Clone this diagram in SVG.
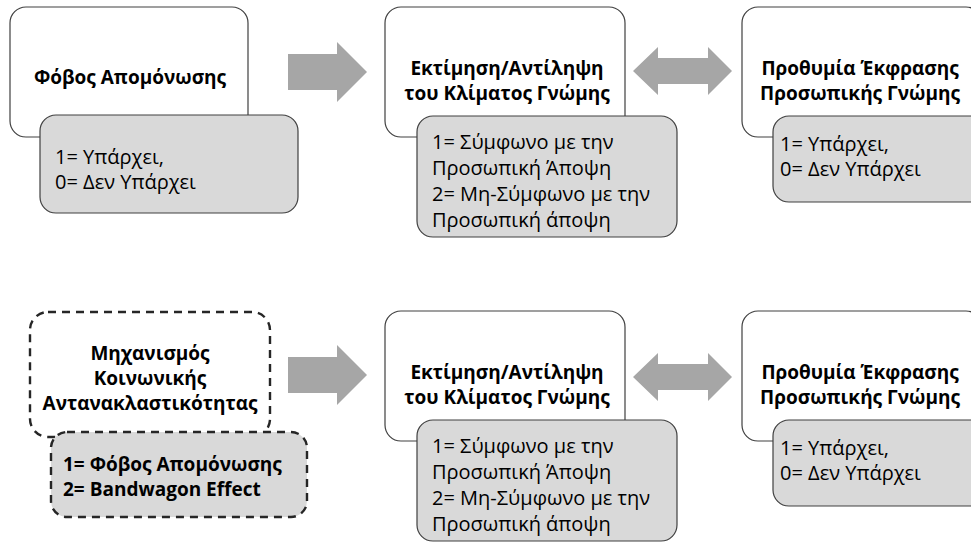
<svg xmlns="http://www.w3.org/2000/svg" width="971" height="548" viewBox="0 0 971 548">
<style>
.box{fill:#fff;stroke:#404040;stroke-width:1.2}
.sub{fill:#d9d9d9;stroke:#404040;stroke-width:1.2}
.dash{stroke:#262626;stroke-width:2.4;stroke-dasharray:8 6}
.arr{fill:#a6a6a6}
.t{font-family:"Open Sans","Noto Sans","DejaVu Sans",sans-serif;font-size:20px;fill:#000}
.b{font-weight:bold;font-size:19px}
.c{text-anchor:middle}
</style>
<rect width="971" height="548" fill="#fff"/>
<g id="connectors">
<polygon class="arr" points="288,54 337,54 337,42 367,72 337,102 337,90 288,90"/>
<polygon class="arr" points="633,71 658,47 658,58 708,58 708,47 732,71 708,95 708,84 658,84 658,95"/>
<polygon class="arr" points="288,357 337,357 337,345 367,375 337,405 337,393 288,393"/>
<polygon class="arr" points="633,377 658,353 658,364 708,364 708,353 732,377 708,401 708,390 658,390 658,401"/>
</g>
<g id="n1">
<rect class="box" x="10" y="7" width="238" height="130" rx="16"/>
<rect class="sub" x="40" y="115" width="258" height="98" rx="16"/>
<text class="t b c" x="130" y="84">Φόβος Απομόνωσης</text>
<text class="t" x="55" y="164">1= Υπάρχει,</text>
<text class="t" x="55" y="189">0= Δεν Υπάρχει</text>
</g>
<g id="n2">
<rect class="box" x="385" y="7" width="240" height="130" rx="16"/>
<rect class="sub" x="417" y="116" width="260" height="121" rx="16"/>
<text class="t b c" x="507" y="75">Εκτίμηση/Αντίληψη</text>
<text class="t b c" x="507" y="100">του Κλίματος Γνώμης</text>
<text class="t" x="432" y="149">1= Σύμφωνο με την</text>
<text class="t" x="432" y="175">Προσωπική Άποψη</text>
<text class="t" x="432" y="201">2= Μη-Σύμφωνο με την</text>
<text class="t" x="432" y="227">Προσωπική άποψη</text>
</g>
<g id="n3">
<rect class="box" x="742" y="7" width="240" height="130" rx="16"/>
<rect class="sub" x="773" y="116" width="260" height="86" rx="16"/>
<text class="t b c" x="860" y="75">Προθυμία Έκφρασης</text>
<text class="t b c" x="860" y="100">Προσωπικής Γνώμης</text>
<text class="t" x="780" y="151">1= Υπάρχει,</text>
<text class="t" x="780" y="176">0= Δεν Υπάρχει</text>
</g>
<g id="n4">
<rect class="box dash" x="30" y="312" width="240" height="125" rx="18"/>
<rect class="sub dash" x="51" y="432" width="256" height="85" rx="16"/>
<text class="t b c" x="150" y="360">Μηχανισμός</text>
<text class="t b c" x="150" y="385">Κοινωνικής</text>
<text class="t b c" x="150" y="410">Αντανακλαστικότητας</text>
<text class="t b" x="63" y="471">1= Φόβος Απομόνωσης</text>
<text class="t b" x="63" y="496">2= Bandwagon Effect</text>
</g>
<g id="n5">
<rect class="box" x="385" y="311" width="240" height="130" rx="16"/>
<rect class="sub" x="417" y="420" width="260" height="121" rx="16"/>
<text class="t b c" x="507" y="379">Εκτίμηση/Αντίληψη</text>
<text class="t b c" x="507" y="404">του Κλίματος Γνώμης</text>
<text class="t" x="432" y="453">1= Σύμφωνο με την</text>
<text class="t" x="432" y="479">Προσωπική Άποψη</text>
<text class="t" x="432" y="505">2= Μη-Σύμφωνο με την</text>
<text class="t" x="432" y="531">Προσωπική άποψη</text>
</g>
<g id="n6">
<rect class="box" x="742" y="311" width="240" height="130" rx="16"/>
<rect class="sub" x="773" y="420" width="260" height="86" rx="16"/>
<text class="t b c" x="860" y="379">Προθυμία Έκφρασης</text>
<text class="t b c" x="860" y="404">Προσωπικής Γνώμης</text>
<text class="t" x="780" y="455">1= Υπάρχει,</text>
<text class="t" x="780" y="480">0= Δεν Υπάρχει</text>
</g>
</svg>
